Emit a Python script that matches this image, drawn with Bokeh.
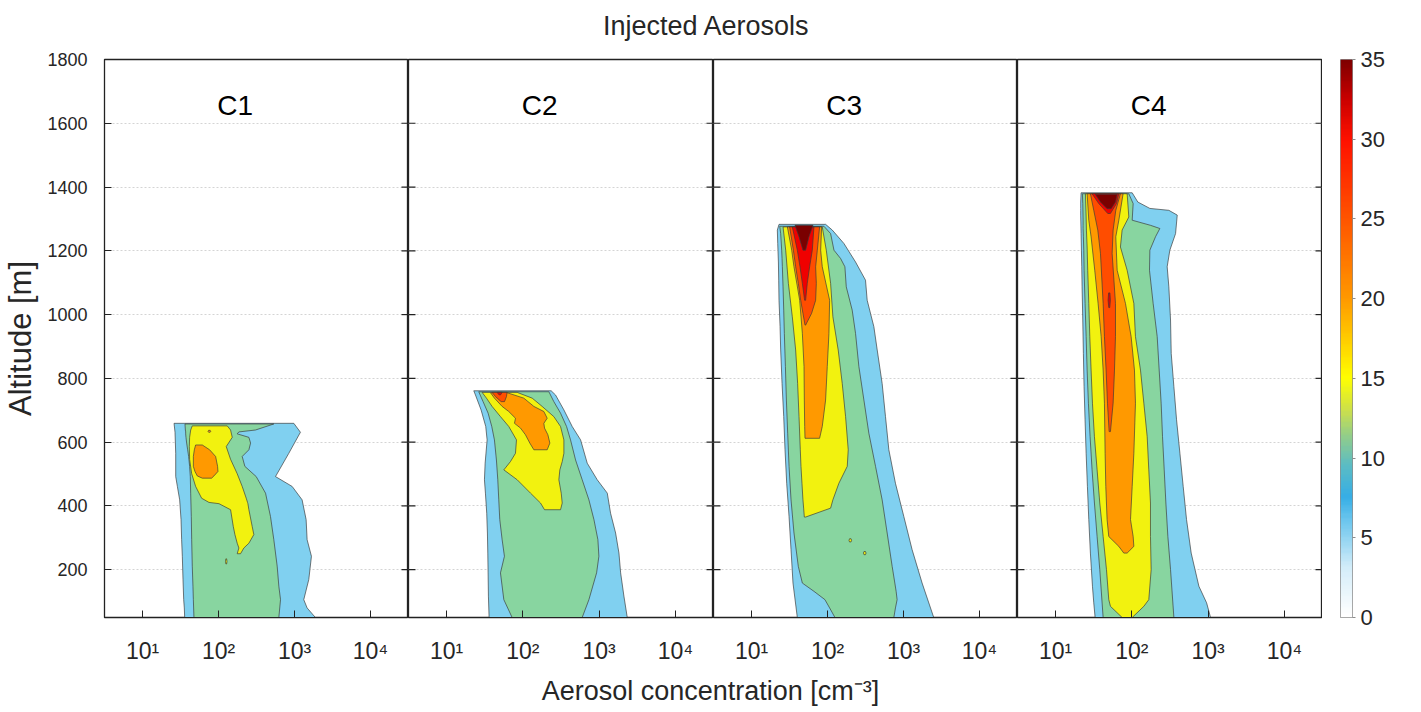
import numpy as np
from bokeh.plotting import figure
from bokeh.layouts import row, column
from bokeh.models import Range1d, FixedTicker, LinearAxis, Label, LinearColorMapper
from bokeh.embed import file_html
from bokeh.resources import INLINE

# ---------------- data ----------------
# Filled-contour bands of "Frequency by Altitude %": for each band the altitude [m]
# and the left / right edge as log10(aerosol concentration [cm^-3]).
# A trailing "b" marks a small separate island of the same band.
levels = [5, 10, 15, 20, 25, 30, 35]
level_colors = ["#80d0f0", "#88d5a0", "#f2f20f", "#ff9900", "#ff4d00", "#f00000", "#7a0000"]
panel_names = ["C1", "C2", "C3", "C4"]

# C1
c1_alt_5 = [659, 631, 565, 492, 461, 419, 357, 294, 242, 169, 106, 80, 50]
c1_lo_5 = [1.415, 1.428, 1.437, 1.437, 1.459, 1.489, 1.507, 1.515, 1.524, 1.533, 1.542, 1.550, 1.555]
c1_hi_5 = [2.991, 3.078, 2.925, 2.750, 2.969, 3.100, 3.153, 3.166, 3.223, 3.188, 3.122, 3.166, 3.275]
c1_alt_10 = [657, 638, 632, 626, 615, 597, 576, 555, 524, 492, 440, 367, 294, 211, 148, 106, 50]
c1_lo_10 = [1.559, 1.564, 1.568, 1.568, 1.572, 1.581, 1.594, 1.607, 1.620, 1.629, 1.634, 1.642, 1.647, 1.655, 1.664, 1.669, 1.677]
c1_hi_10 = [2.728, 2.487, 2.268, 2.246, 2.400, 2.422, 2.400, 2.312, 2.347, 2.496, 2.619, 2.684, 2.728, 2.772, 2.794, 2.816, 2.794]
c1_alt_15 = [651, 638, 615, 586, 546, 501, 461, 424, 411, 407, 388, 336, 310, 283, 268, 250]
c1_lo_15 = [1.655, 1.634, 1.620, 1.616, 1.620, 1.647, 1.699, 1.778, 1.874, 2.006, 2.159, 2.194, 2.216, 2.246, 2.268, 2.246]
c1_hi_15 = [2.115, 2.159, 2.181, 2.102, 2.159, 2.246, 2.312, 2.365, 2.382, 2.387, 2.400, 2.443, 2.465, 2.400, 2.334, 2.290]
c1_alt_15b = [234, 226, 218]
c1_lo_15b = [2.097, 2.092, 2.097]
c1_hi_15b = [2.107, 2.112, 2.107]
c1_alt_20 = [591, 576, 555, 524, 508, 494, 487]
c1_lo_20 = [1.699, 1.682, 1.669, 1.669, 1.690, 1.721, 1.787]
c1_hi_20 = [1.787, 1.883, 1.962, 1.988, 1.993, 1.940, 1.909]
c1_alt_20b = [637, 634, 631]
c1_lo_20b = [1.87, 1.862, 1.87]
c1_hi_20b = [1.89, 1.898, 1.89]

# C2
c2_alt_5 = [761, 748, 701, 649, 607, 534, 482, 440, 377, 315, 252, 190, 117, 50]
c2_lo_5 = [1.356, 1.378, 1.452, 1.513, 1.531, 1.505, 1.496, 1.509, 1.526, 1.535, 1.540, 1.544, 1.548, 1.557]
c2_hi_5 = [2.371, 2.428, 2.538, 2.647, 2.757, 2.844, 2.975, 3.107, 3.150, 3.216, 3.260, 3.282, 3.325, 3.369]
c2_alt_10 = [758, 727, 691, 649, 607, 544, 482, 419, 357, 294, 242, 190, 106, 50]
c2_lo_10 = [1.421, 1.478, 1.544, 1.592, 1.627, 1.653, 1.671, 1.684, 1.697, 1.728, 1.758, 1.706, 1.750, 1.859]
c2_hi_10 = [2.341, 2.406, 2.494, 2.573, 2.625, 2.691, 2.778, 2.866, 2.932, 2.984, 2.997, 2.967, 2.866, 2.778]
c2_alt_15 = [756, 738, 712, 680, 649, 607, 565, 539, 513, 482, 440, 409, 388]
c2_lo_15 = [1.465, 1.522, 1.596, 1.706, 1.815, 1.916, 1.903, 1.837, 1.750, 1.925, 2.100, 2.231, 2.284]
c2_hi_15 = [1.925, 2.122, 2.253, 2.406, 2.494, 2.538, 2.538, 2.516, 2.485, 2.472, 2.503, 2.516, 2.494]
c2_alt_20 = [755, 738, 712, 696, 675, 659, 644, 623, 597, 576]
c2_lo_20 = [1.575, 1.627, 1.728, 1.815, 1.903, 1.890, 1.969, 2.034, 2.091, 2.144]
c2_hi_20 = [1.793, 2.012, 2.144, 2.275, 2.319, 2.275, 2.284, 2.328, 2.354, 2.319]
c2_alt_25 = [756, 743, 727]
c2_lo_25 = [1.597, 1.640, 1.715]
c2_hi_25 = [1.793, 1.785, 1.759]
c2_alt_30 = [756, 748]
c2_lo_30 = [1.662, 1.689]
c2_hi_30 = [1.728, 1.706]

# C3
c3_alt_5 = [1283, 1265, 1223, 1165, 1108, 1045, 962, 889, 784, 680, 576, 471, 367, 263, 158, 50]
c3_lo_5 = [1.362, 1.340, 1.345, 1.354, 1.358, 1.362, 1.376, 1.384, 1.402, 1.424, 1.441, 1.463, 1.494, 1.520, 1.546, 1.603]
c3_hi_5 = [1.975, 2.063, 2.216, 2.369, 2.500, 2.522, 2.610, 2.654, 2.719, 2.763, 2.807, 2.894, 3.004, 3.113, 3.245, 3.398]
c3_alt_10 = [1277, 1254, 1202, 1176, 1150, 1087, 1014, 941, 837, 732, 628, 524, 419, 315, 210, 158, 132, 106, 80, 50]
c3_lo_10 = [1.371, 1.384, 1.397, 1.402, 1.406, 1.415, 1.424, 1.432, 1.446, 1.459, 1.476, 1.494, 1.520, 1.559, 1.616, 1.669, 1.822, 1.966, 2.028, 2.098]
c3_hi_10 = [1.953, 2.041, 2.085, 2.172, 2.229, 2.247, 2.325, 2.369, 2.413, 2.479, 2.544, 2.632, 2.719, 2.785, 2.851, 2.886, 2.903, 2.916, 2.894, 2.873]
c3_alt_15 = [1275, 1202, 1098, 993, 889, 784, 680, 576, 524, 471, 419, 393, 365]
c3_lo_15 = [1.415, 1.450, 1.485, 1.537, 1.581, 1.607, 1.625, 1.642, 1.651, 1.664, 1.677, 1.686, 1.695]
c3_hi_15 = [1.931, 1.984, 2.041, 2.071, 2.141, 2.194, 2.238, 2.273, 2.260, 2.150, 2.071, 2.041, 1.712]
c3_alt_15b = [297, 292, 287]
c3_lo_15b = [2.29, 2.283, 2.29]
c3_hi_15b = [2.31, 2.317, 2.31]
c3_alt_15c = [257, 252, 247]
c3_lo_15c = [2.48, 2.473, 2.48]
c3_hi_15c = [2.50, 2.507, 2.50]
c3_alt_20 = [1275, 1202, 1150, 1045, 941, 837, 732, 649, 612]
c3_lo_20 = [1.472, 1.529, 1.559, 1.634, 1.669, 1.691, 1.695, 1.700, 1.704]
c3_hi_20 = [1.923, 1.910, 1.931, 2.028, 2.019, 1.997, 1.975, 1.931, 1.896]
c3_alt_25 = [1275, 1202, 1150, 1098, 1045, 1004, 967]
c3_lo_25 = [1.502, 1.551, 1.581, 1.616, 1.647, 1.677, 1.704]
c3_hi_25 = [1.896, 1.866, 1.844, 1.853, 1.844, 1.791, 1.712]
c3_alt_30 = [1275, 1202, 1150, 1098, 1045]
c3_lo_30 = [1.537, 1.603, 1.638, 1.669, 1.699]
c3_hi_30 = [1.822, 1.800, 1.765, 1.734, 1.712]
c3_alt_35 = [1280, 1244, 1202]
c3_lo_35 = [1.572, 1.625, 1.677]
c3_hi_35 = [1.809, 1.756, 1.712]

# C4
c4_alt_5 = [1382, 1353, 1333, 1327, 1312, 1254, 1202, 1150, 1087, 983, 878, 774, 670, 565, 461, 357, 252, 148, 96, 50]
c4_lo_5 = [1.334, 1.329, 1.329, 1.329, 1.329, 1.334, 1.338, 1.343, 1.347, 1.356, 1.364, 1.373, 1.386, 1.400, 1.417, 1.435, 1.456, 1.483, 1.500, 1.518]
c4_hi_5 = [2.004, 2.078, 2.236, 2.485, 2.595, 2.573, 2.498, 2.463, 2.485, 2.507, 2.516, 2.551, 2.586, 2.630, 2.673, 2.717, 2.778, 2.879, 2.980, 3.032]
c4_alt_10 = [1379, 1348, 1296, 1280, 1270, 1244, 1202, 1139, 1035, 931, 826, 722, 617, 513, 409, 304, 200, 50]
c4_lo_10 = [1.351, 1.356, 1.360, 1.360, 1.360, 1.364, 1.369, 1.373, 1.386, 1.400, 1.413, 1.430, 1.452, 1.478, 1.509, 1.544, 1.579, 1.623]
c4_hi_10 = [1.960, 2.017, 2.004, 2.244, 2.367, 2.310, 2.236, 2.231, 2.279, 2.332, 2.358, 2.384, 2.402, 2.424, 2.446, 2.472, 2.507, 2.551]
c4_alt_15 = [1379, 1306, 1265, 1212, 1139, 1035, 931, 826, 722, 617, 513, 409, 304, 200, 106, 85, 50]
c4_lo_15 = [1.391, 1.400, 1.404, 1.413, 1.421, 1.435, 1.448, 1.465, 1.483, 1.509, 1.544, 1.579, 1.623, 1.667, 1.697, 1.719, 1.872]
c4_hi_15 = [1.938, 1.960, 1.872, 1.850, 1.938, 2.026, 2.047, 2.113, 2.157, 2.201, 2.222, 2.244, 2.244, 2.253, 2.222, 2.157, 2.004]
c4_alt_20 = [1379, 1296, 1244, 1139, 1035, 931, 826, 722, 565, 461, 357, 304, 273, 252]
c4_lo_20 = [1.413, 1.435, 1.465, 1.513, 1.557, 1.597, 1.623, 1.640, 1.649, 1.658, 1.675, 1.697, 1.829, 1.894]
c4_hi_20 = [1.885, 1.829, 1.789, 1.807, 1.916, 1.990, 2.034, 2.047, 2.026, 2.004, 1.982, 2.017, 2.026, 1.938]
c4_alt_25 = [1379, 1327, 1265, 1192, 1035, 931, 826, 722, 633]
c4_lo_25 = [1.456, 1.500, 1.553, 1.588, 1.623, 1.640, 1.662, 1.680, 1.702]
c4_hi_25 = [1.850, 1.789, 1.754, 1.741, 1.785, 1.785, 1.772, 1.754, 1.719]
c4_alt_30 = [1379, 1348, 1317]
c4_lo_30 = [1.478, 1.566, 1.684]
c4_hi_30 = [1.829, 1.798, 1.719]
c4_alt_30b = [1068, 1045, 1022]
c4_lo_30b = [1.695, 1.688, 1.697]
c4_hi_30b = [1.712, 1.718, 1.710]
c4_alt_35 = [1377, 1353, 1332]
c4_lo_35 = [1.522, 1.588, 1.675]
c4_hi_35 = [1.807, 1.785, 1.728]

y_ticks = [200, 400, 600, 800, 1000, 1200, 1400, 1600, 1800]
x_ticks = [10, 100, 1000, 10000]
x_tick_labels = {10: "10\u00b9", 100: "10\u00b2", 1000: "10\u00b3", 10000: "10\u2074"}
cbar_ticks = [0, 5, 10, 15, 20, 25, 30, 35]

# ---------------- assemble bands ----------------
g = globals()
panel_bands = []
for k in range(1, 5):
    bands = []
    for li, lev in enumerate(levels):
        for suffix in ("", "b", "c"):
            key = f"c{k}_alt_{lev}{suffix}"
            if key in g:
                bands.append((li, g[key], g[f"c{k}_lo_{lev}{suffix}"], g[f"c{k}_hi_{lev}{suffix}"]))
    panel_bands.append(bands)

# ---------------- styling ----------------
FONT = "'Liberation Sans', Arial, sans-serif"
TXT = "#262626"
FRAME_H = 558
frame_widths = [304, 305, 304, 305]
LEFT = 102
TOP = 12
BOTTOM = 50
X_LO, X_HI = 10 ** 0.5, 10 ** 4.5

yr = Range1d(50, 1800)
figs = []
for i in range(4):
    p = figure(frame_width=frame_widths[i], frame_height=FRAME_H, x_axis_type="log",
               x_range=Range1d(X_LO, X_HI), y_range=yr,
               toolbar_location=None, output_backend="svg",
               min_border_left=LEFT if i == 0 else 0, min_border_right=0,
               min_border_top=TOP, min_border_bottom=BOTTOM, background_fill_color="white",
               border_fill_color="white")
    p.outline_line_color = "#222222"
    p.outline_line_width = 1.3
    p.xgrid.visible = False
    p.ygrid.ticker = FixedTicker(ticks=y_ticks)
    p.ygrid.grid_line_color = "#d4d4d4"
    p.ygrid.grid_line_dash = "2 2"
    p.ygrid.grid_line_width = 1

    ax = p.xaxis[0]
    ax.ticker = FixedTicker(ticks=x_ticks, minor_ticks=[])
    ax.major_label_overrides = x_tick_labels
    ax.major_tick_in = 7
    ax.major_tick_out = 0
    ax.minor_tick_line_color = None
    ax.axis_line_color = "#222222"
    ax.major_tick_line_color = "#222222"
    ax.major_label_text_font = FONT
    ax.major_label_text_font_size = "23px"
    ax.major_label_text_color = TXT
    ax.major_label_standoff = 20

    if i == 0:
        ay = p.yaxis[0]
        ay.ticker = FixedTicker(ticks=y_ticks)
        ay.major_tick_in = 7
        ay.major_tick_out = 0
        ay.minor_tick_line_color = None
        ay.axis_line_color = "#222222"
        ay.major_tick_line_color = "#222222"
        ay.major_label_text_font = FONT
        ay.major_label_text_font_size = "18px"
        ay.major_label_text_color = TXT
        ay.major_label_standoff = 17
        ay.axis_label = "Altitude [m]"
        ay.axis_label_text_font = FONT
        ay.axis_label_text_font_size = "31px"
        ay.axis_label_text_font_style = "normal"
        ay.axis_label_text_color = TXT
        ay.axis_label_standoff = 6
    else:
        p.yaxis.visible = False

    for li, alt, lo, hi in panel_bands[i]:
        alt = np.asarray(alt, dtype=float)
        xs = 10 ** np.concatenate([np.asarray(lo), np.asarray(hi)[::-1]])
        ys = np.concatenate([alt, alt[::-1]])
        p.patch(xs, ys, fill_color=level_colors[li], line_color="#3a3a3a",
                line_width=0.8, line_alpha=0.85)

    # inward tick marks along the panel edges (half of each dash is clipped by the frame)
    edges = [X_HI] if i == 0 else [X_LO, X_HI]
    for ex in edges:
        p.scatter(x=[ex] * len(y_ticks), y=y_ticks, marker="dash", size=14,
                  line_color="#222222", line_width=1.2)

    p.add_layout(Label(x=10 ** 2.22, y=1656, text=panel_names[i], text_font=FONT,
                       text_font_size="28px", text_color="black",
                       text_align="center", text_baseline="middle"))
    figs.append(p)

# ---------------- colour bar ----------------
cb_stops = [0, 3, 6, 7.5, 9.5, 11.5, 13, 15, 17.5, 20, 25, 30, 32.5, 35]
cb_colors = ["#ffffff", "#d4edf9", "#6cc6ee", "#36aee6", "#5bbcc4", "#97cf84", "#cde04a",
             "#ffff00", "#ffcc00", "#ff9900", "#ff5500", "#ff1100", "#cc0000", "#800000"]
rgb = np.array([[int(c[j:j + 2], 16) for j in (1, 3, 5)] for c in cb_colors], dtype=float)
vals = np.linspace(0, 35, 256)
pal = ["#%02x%02x%02x" % tuple(int(round(np.interp(v, cb_stops, rgb[:, ch]))) for ch in range(3))
       for v in vals]
mapper = LinearColorMapper(palette=pal, low=0, high=35)

CB_GAP, CB_W, CB_RIGHT = 18, 12, 63
pc = figure(frame_width=CB_W, frame_height=FRAME_H, x_range=Range1d(0, 1), y_range=Range1d(0, 35),
            toolbar_location=None, output_backend="svg", min_border_left=CB_GAP,
            min_border_right=CB_RIGHT, min_border_top=TOP, min_border_bottom=BOTTOM)
pc.xaxis.visible = False
pc.yaxis.visible = False
pc.grid.visible = False
pc.outline_line_color = "#8c8c8c"
pc.outline_line_width = 1
pc.image(image=[np.linspace(0, 35, 350).reshape(-1, 1)], x=0, y=0, dw=1, dh=35, color_mapper=mapper)
cax = LinearAxis(ticker=FixedTicker(ticks=cbar_ticks), major_tick_in=0, major_tick_out=3,
                 minor_tick_line_color=None, axis_line_color=None, major_tick_line_color="#8c8c8c",
                 major_label_text_font=FONT, major_label_text_font_size="22px",
                 major_label_text_color=TXT, major_label_standoff=5)
pc.add_layout(cax, "right")
pc.add_layout(Label(x=62 / CB_W, y=17.5, text="Frequency by Altitude %", angle=np.pi / 2,
                    text_font=FONT, text_font_size="23px", text_color=TXT,
                    text_align="center", text_baseline="middle"))

# ---------------- title and x label ----------------
TOTAL_W = LEFT + sum(frame_widths) + CB_GAP + CB_W + CB_RIGHT


def text_fig(h, xfrac, yfrac, text, size):
    f = figure(width=TOTAL_W, height=h, x_range=Range1d(0, 1), y_range=Range1d(0, 1),
               toolbar_location=None, output_backend="svg", min_border=0)
    f.axis.visible = False
    f.grid.visible = False
    f.outline_line_color = None
    f.add_layout(Label(x=xfrac, y=yfrac, text=text, text_font=FONT, text_font_size=size,
                       text_color=TXT, text_align="center", text_baseline="middle"))
    return f


TITLE_H = 59 - TOP
XLAB_H = 44
title_fig = text_fig(TITLE_H, 706 / TOTAL_W, 1 - 25 / TITLE_H, "Injected Aerosols", "27px")
xlab_fig = text_fig(XLAB_H, 710 / TOTAL_W, 1 - 23 / XLAB_H, "Aerosol concentration [cm\u207b\u00b3]", "27px")

layout = column(title_fig, row(*figs, pc), xlab_fig)
open("out.html", "w").write(file_html(layout, INLINE))
